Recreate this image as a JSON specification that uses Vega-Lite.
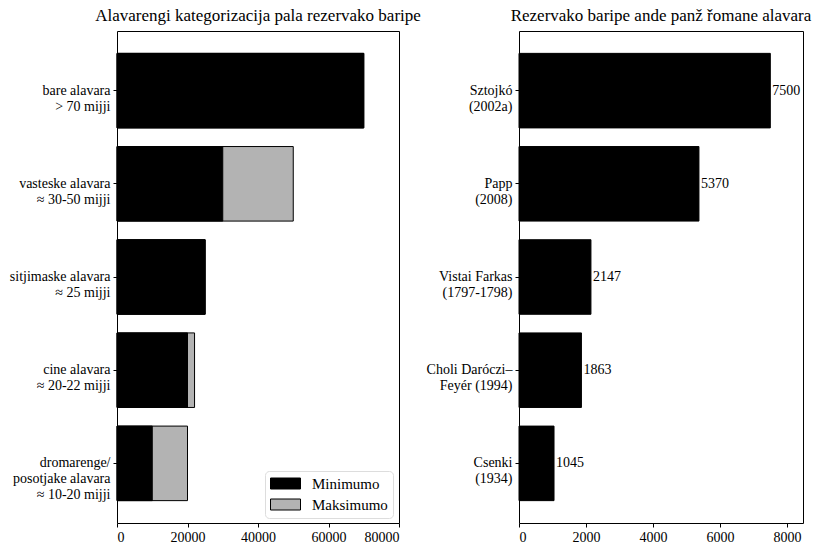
{
  "$schema": "https://vega.github.io/schema/vega-lite/v6.json",
  "background": "white",
  "padding": {"left": 8, "top": 6, "right": 5, "bottom": 5},
  "spacing": 120,
  "bounds": "flush",
  "config": {
    "font": "Liberation Serif",
    "view": {"stroke": "black", "strokeWidth": 1},
    "axis": {"labelFont": "Liberation Serif", "labelFontSize": 14, "labelColor": "black", "tickColor": "black", "domain": false, "grid": false, "tickSize": 4, "labelPadding": 3, "titleFont": "Liberation Serif"},
    "title": {"font": "Liberation Serif", "fontSize": 17, "fontWeight": "normal", "color": "black", "offset": 6}
  },
  "datasets": {
    "cat": [
      {"kat": "bare alavara|> 70 mijji", "min": 70000, "max": 70000},
      {"kat": "vasteske alavara|≈ 30-50 mijji", "min": 30000, "max": 50000},
      {"kat": "sitjimaske alavara|≈ 25 mijji", "min": 25000, "max": 25000},
      {"kat": "cine alavara|≈ 20-22 mijji", "min": 20000, "max": 22000},
      {"kat": "dromarenge/|posotjake alavara|≈ 10-20 mijji", "min": 10000, "max": 20000}
    ],
    "src": [
      {"forras": "Sztojkó|(2002a)", "n": 7500},
      {"forras": "Papp|(2008)", "n": 5370},
      {"forras": "Vistai Farkas|(1797-1798)", "n": 2147},
      {"forras": "Choli Daróczi–|Feyér (1994)", "n": 1863},
      {"forras": "Csenki|(1934)", "n": 1045}
    ]
  },
  "hconcat": [
    {
      "width": 282,
      "height": 492,
      "title": "Alavarengi kategorizacija pala rezervako baripe",
      "data": {"name": "cat"},
      "encoding": {
        "y": {"field": "kat", "type": "nominal", "sort": null, "title": null,
          "scale": {"paddingInner": 0.2, "paddingOuter": 0.24},
          "axis": {"labelExpr": "split(datum.value, '|')", "labelLineHeight": 16, "labelAlign": "right", "labelBaseline": "middle"}}
      },
      "layer": [
        {
          "transform": [{"calculate": "'Maksimumo'", "as": "tipus"}],
          "mark": {"type": "bar", "stroke": "black", "strokeWidth": 1},
          "encoding": {
            "x": {"field": "max", "type": "quantitative", "title": null,
              "scale": {"domain": [0, 80000], "nice": false},
              "axis": {"values": [0, 20000, 40000, 60000, 80000], "format": "d"}},
            "fill": {"field": "tipus", "type": "nominal",
              "scale": {"domain": ["Minimumo", "Maksimumo"], "range": ["#000000", "#b3b3b3"]},
              "legend": {"title": null, "orient": "none", "legendX": 148, "legendY": 440, "symbolType": "M-3,-1.1H3V1.1H-3Z", "symbolSize": 100, "symbolOffset": 8, "symbolStrokeColor": "black", "symbolStrokeWidth": 1, "labelFontSize": 15, "labelFont": "Liberation Serif", "labelColor": "black", "strokeColor": "#dddddd", "cornerRadius": 4, "padding": 5, "fillColor": "white", "rowPadding": 5, "labelOffset": 19}}
          }
        },
        {
          "transform": [{"calculate": "'Minimumo'", "as": "tipus"}],
          "mark": {"type": "bar", "stroke": "black", "strokeWidth": 1},
          "encoding": {
            "x": {"field": "min", "type": "quantitative"},
            "fill": {"field": "tipus", "type": "nominal"}
          }
        }
      ]
    },
    {
      "width": 284,
      "height": 492,
      "title": "Rezervako baripe ande panž řomane alavara",
      "data": {"name": "src"},
      "encoding": {
        "y": {"field": "forras", "type": "nominal", "sort": null, "title": null,
          "scale": {"paddingInner": 0.2, "paddingOuter": 0.24},
          "axis": {"labelExpr": "split(datum.value, '|')", "labelLineHeight": 16, "labelAlign": "right", "labelBaseline": "middle"}},
        "x": {"field": "n", "type": "quantitative", "title": null,
          "scale": {"domain": [0, 8475], "nice": false},
          "axis": {"values": [0, 2000, 4000, 6000, 8000], "format": "d"}}
      },
      "layer": [
        {"mark": {"type": "bar", "fill": "black", "stroke": "black"}},
        {"mark": {"type": "text", "align": "left", "baseline": "middle", "dx": 2, "fontSize": 14, "font": "Liberation Serif", "color": "black"},
          "encoding": {"text": {"field": "n", "type": "quantitative", "format": "d"}}}
      ]
    }
  ]
}
